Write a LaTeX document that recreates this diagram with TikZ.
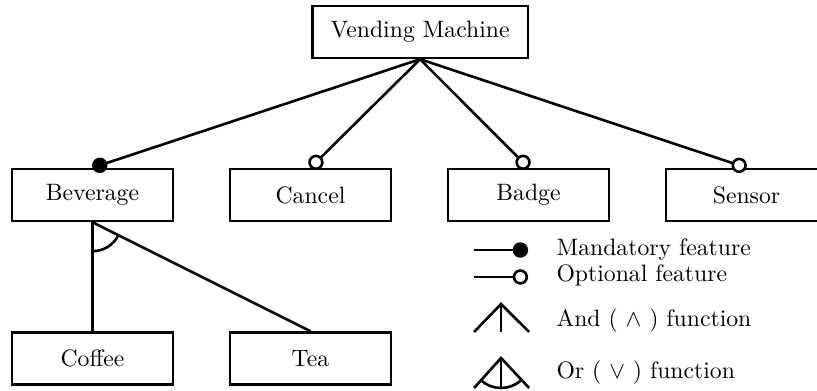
\documentclass[tikz,border=0pt]{standalone}
\usepackage{amssymb}
\usetikzlibrary{arrows.meta}

\begin{document}
\begin{tikzpicture}[font=\rmfamily,
  feat/.style={draw,line width=1.1pt,minimum width=2.39cm,minimum height=0.77cm,inner sep=2pt},
  lnk/.style={line width=1.1pt},
  mand/.style={lnk,-{Circle[length=6.5pt]}},
  opt/.style={lnk,-{Circle[open,length=6.5pt,fill=white]}},
  key/.style={anchor=west,inner sep=0pt},
]

%% Layout parameters
\def\colsep{3.234}  % column spacing
\def\rowA{2.893}    % feature row
\def\rowB{0.467}    % sub-feature row
\def\keyX{8.249}    % legend text

\useasboundingbox (0,0) rectangle (12.12,5.786);

%% ---- Root ----
\node[feat,minimum width=3.2cm] (vm) at (6.232,5.312) {Vending Machine};

%% ---- Features ----
\node[feat] (bev)    at (1.372,\rowA)          {Beverage};
\node[feat] (cancel) at (1.372+\colsep,\rowA)   {Cancel};
\node[feat] (badge)  at (1.372+2*\colsep,\rowA) {Badge};
\node[feat] (sensor) at (1.372+3*\colsep,\rowA) {Sensor};

\draw[mand] (vm.south) -- (bev.north);
\draw[opt]  (vm.south) -- (cancel.north);
\draw[opt]  (vm.south) -- (badge.north);
\draw[opt]  (vm.south) -- (sensor.north);

%% ---- Beverage children (or group) ----
\node[feat] (coffee) at (1.372,\rowB)        {Coffee};
\node[feat] (tea)    at (1.372+\colsep,\rowB) {Tea};

\draw[lnk] (bev.south) -- (coffee.north);
\draw[lnk] (bev.south) -- (tea.north);
\draw[lnk] ([shift={(-90:0.43)}]bev.south) arc[start angle=-90,end angle=-27.2,radius=0.43];

%% ================================================================
%%  Legend
%% ================================================================
\coordinate (m0) at (7.033,2.077);
\coordinate (m1) at (7.834,2.077);
\coordinate (o0) at (7.033,1.677);
\coordinate (o1) at (7.834,1.677);
\draw[mand] (m0) -- (m1);
\draw[opt]  (o0) -- (o1);

%% and
\coordinate (a0) at (7.433,1.276);
\draw[lnk] (7.033,0.861) -- (a0) -- (7.849,0.861);
\draw[lnk] (a0) -- (7.433,0.861);

%% or
\coordinate (r0) at (7.433,0.475);
\draw[lnk] (7.033,0.030) -- (r0) -- (7.849,0.030);
\draw[lnk] (r0) -- (7.433,0.030);
\draw[lnk] ([shift={(-132:0.445)}]r0) arc[start angle=-132,end angle=-48,radius=0.445];

\node[key] (kmand) at (\keyX,2.077) {Mandatory feature};
\node[key] (kopt)  at (\keyX,1.706) {Optional feature};
\node[key] (kand)  at (\keyX,1.024) {And ( $\wedge$ ) function};
\node[key] (kor)   at (\keyX,0.252) {Or ( $\vee$ ) function};

\end{tikzpicture}
\end{document}
